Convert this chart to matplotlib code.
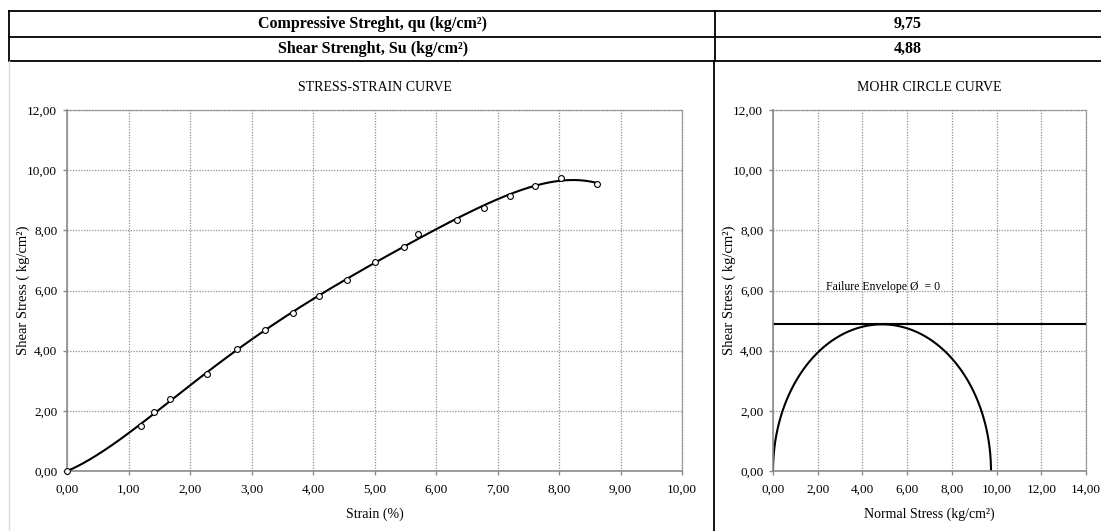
import matplotlib

matplotlib.use("Agg")
import matplotlib.pyplot as plt
import numpy as np
from matplotlib.lines import Line2D
from matplotlib.ticker import FuncFormatter, MultipleLocator

# unconfined compression test readings
strain = [0.00, 1.21, 1.42, 1.68, 2.27, 2.77, 3.22, 3.67, 4.10, 4.56,
          5.00, 5.48, 5.70, 6.34, 6.78, 7.20, 7.61, 8.03, 8.61]
stress = [0.00, 1.50, 1.97, 2.38, 3.24, 4.07, 4.68, 5.26, 5.81, 6.36,
          6.94, 7.44, 7.88, 8.35, 8.75, 9.15, 9.49, 9.75, 9.54]

qu = 9.75
su = 4.88

table_rows = [
    ("Compressive Streght, qu (kg/cm²)", "9,75"),
    ("Shear Strenght, Su (kg/cm²)", "4,88"),
]

W, H = 1101, 531
plt.rcParams["font.family"] = ["Liberation Serif", "DejaVu Serif"]

fig = plt.figure(figsize=(W / 100, H / 100), dpi=100)


def fx(px):
    return px / W


def fy(py):
    return 1 - py / H


def hline(y, x0, x1, color="black", lw=1.3):
    fig.add_artist(Line2D([fx(x0), fx(x1)], [fy(y), fy(y)], color=color, lw=lw))


def vline(x, y0, y1, color="black", lw=1.3):
    fig.add_artist(Line2D([fx(x), fx(x)], [fy(y0), fy(y1)], color=color, lw=lw))


# summary table frame
hline(11, 9, W)
hline(37, 9, W)
hline(61, 9, W)
vline(9, 11, 61)
vline(715, 11, 61)
vline(714, 61, H)
vline(9, 61, H, color="#d8d8d8", lw=1.0)

for i, (label, val) in enumerate(table_rows):
    yc = fy(24 + 25 * i)
    fig.text(fx(373), yc, label, ha="center", va="center",
             fontsize=11.5, fontweight="bold")
    fig.text(fx(908), yc, val, ha="center", va="center",
             fontsize=11.5, fontweight="bold")

comma = FuncFormatter(lambda v, _: f"{v:.2f}".replace(".", ","))


def style_axes(ax, xmax, xstep):
    ax.set_xlim(0, xmax)
    ax.set_ylim(0, 12)
    ax.xaxis.set_major_locator(MultipleLocator(xstep))
    ax.yaxis.set_major_locator(MultipleLocator(2))
    ax.xaxis.set_major_formatter(comma)
    ax.yaxis.set_major_formatter(comma)
    ax.grid(True, color="#909090", linestyle=(0, (1, 1.2)), linewidth=0.9)
    for side in ("left", "bottom"):
        ax.spines[side].set_color("#8a8a8a")
        ax.spines[side].set_linewidth(1.2)
    for side in ("top", "right"):
        ax.spines[side].set_color("#909090")
        ax.spines[side].set_linestyle((0, (1, 1.2)))
        ax.spines[side].set_linewidth(0.9)
    ax.tick_params(direction="out", length=3, width=1, color="#8a8a8a",
                   labelsize=9.5, pad=6)
    ax.tick_params(axis="y", pad=4)
    ax.set_axisbelow(True)


ax1 = fig.add_axes([fx(67), fy(471), fx(682) - fx(67), fy(110) - fy(471)])
style_axes(ax1, 10, 1)

# polynomial trend through the readings
coef = np.polyfit(strain, stress, 5)
xs = np.linspace(0, max(strain), 300)
ax1.plot(xs, np.polyval(coef, xs), color="black", lw=1.5, zorder=3)
ax1.plot(strain, stress, "o", ms=4.2, mfc="white", mec="black", mew=0.8,
         zorder=4, clip_on=False)
ax1.set_title("STRESS-STRAIN CURVE", fontsize=10, pad=14)
ax1.set_xlabel("Strain (%)", fontsize=10, labelpad=9)
ax1.set_ylabel("Shear Stress ( kg/cm²)", fontsize=10.5, labelpad=-2)

ax2 = fig.add_axes([fx(773), fy(471), fx(1086) - fx(773), fy(110) - fy(471)])
style_axes(ax2, 14, 2)

# Mohr circle for the unconfined test (sigma3 = 0, sigma1 = qu)
theta = np.linspace(np.pi, 0, 300)
r = qu / 2
ax2.plot(r + r * np.cos(theta), r * np.sin(theta), color="black", lw=1.5)
ax2.axhline(su, color="black", lw=1.5)
ax2.text(2.37, 6.13, "Failure Envelope Ø  = 0", fontsize=8.5, va="center")
ax2.set_title("MOHR CIRCLE CURVE", fontsize=10, pad=14)
ax2.set_xlabel("Normal Stress (kg/cm²)", fontsize=10, labelpad=9)
ax2.set_ylabel("Shear Stress ( kg/cm²)", fontsize=10.5, labelpad=-2)

fig.savefig("out.png", dpi=100)
